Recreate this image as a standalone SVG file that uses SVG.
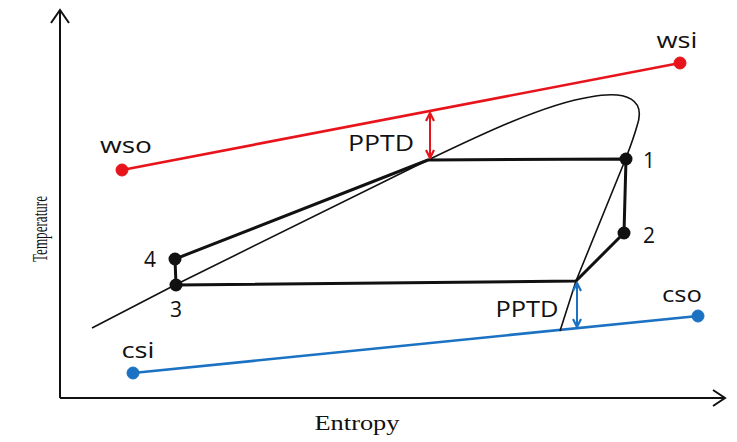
<svg xmlns="http://www.w3.org/2000/svg" width="737" height="442" viewBox="0 0 737 442">
<style>
.lbl{font-family:"Open Sans","Liberation Sans",sans-serif;font-size:21px;fill:#111}
.ax{font-family:"Liberation Serif",serif;fill:#111}
.thin{fill:none;stroke:#111;stroke-width:1.6}
.thick{fill:none;stroke:#111;stroke-width:3;stroke-linejoin:round}
.red{stroke:#e8141c;fill:#e8141c}
.blue{stroke:#1b72c2;fill:#1b72c2}
</style>
<defs>
<marker id="ar" viewBox="0 0 10 10" refX="9" refY="5" markerWidth="10" markerHeight="10" markerUnits="userSpaceOnUse" orient="auto-start-reverse">
<path d="M1,1 L9,5 L1,9" fill="none" stroke="#e8141c" stroke-width="2.2"/>
</marker>
<marker id="ab" viewBox="0 0 10 10" refX="9" refY="5" markerWidth="10" markerHeight="10" markerUnits="userSpaceOnUse" orient="auto-start-reverse">
<path d="M1,1 L9,5 L1,9" fill="none" stroke="#1b72c2" stroke-width="2.2"/>
</marker>
</defs>
<rect width="737" height="442" fill="#fff"/>
<g id="axes">
<path d="M60,398 V11 M51,23 L60,10 L69,23" fill="none" stroke="#111" stroke-width="2"/>
<path d="M60,398 H724 M713,390 L725,398 L713,406" fill="none" stroke="#111" stroke-width="2"/>
<text class="ax" font-size="20" x="357" y="430" text-anchor="middle" textLength="85" lengthAdjust="spacingAndGlyphs">Entropy</text>
<text class="ax" font-size="20" transform="translate(47,229) rotate(-90)" text-anchor="middle" textLength="66" lengthAdjust="spacingAndGlyphs">Temperature</text>
</g>
<g id="connectors">
<line x1="122" y1="170" x2="680" y2="63" class="red" stroke-width="2.6"/>
<line x1="133" y1="373" x2="698" y2="316" class="blue" stroke-width="2.6"/>
<path id="dome" class="thin" d="M92,328 L175,285 L428,160 C480,135 545,104 590,97 C628,90 646,100 637,126 C633,140 629,150 626,158 L576,281 L560,331"/>
<path id="cycle" class="thick" d="M175,259 L428,160 L626,159 L624,233 L576,281 L176,285 Z"/>
<line x1="430" y1="113" x2="430" y2="158" stroke="#e8141c" stroke-width="2" marker-start="url(#ar)" marker-end="url(#ar)"/>
<line x1="577" y1="283" x2="577" y2="327" stroke="#1b72c2" stroke-width="2" marker-start="url(#ab)" marker-end="url(#ab)"/>
</g>
<g id="wso"><circle cx="122" cy="170" r="6" class="red"/><text class="lbl" x="126" y="153" text-anchor="middle" textLength="52" lengthAdjust="spacingAndGlyphs">wso</text></g>
<g id="wsi"><circle cx="680" cy="63" r="6" class="red"/><text class="lbl" x="677" y="48" text-anchor="middle" textLength="41" lengthAdjust="spacingAndGlyphs">wsi</text></g>
<g id="csi"><circle cx="133" cy="373" r="6" class="blue"/><text class="lbl" x="138" y="358" text-anchor="middle" textLength="33" lengthAdjust="spacingAndGlyphs">csi</text></g>
<g id="cso"><circle cx="698" cy="316" r="6" class="blue"/><text class="lbl" x="682" y="302" text-anchor="middle" textLength="40" lengthAdjust="spacingAndGlyphs">cso</text></g>
<g id="p1"><circle cx="626" cy="159" r="6.5" fill="#111"/><text class="lbl" x="649" y="168" text-anchor="middle">1</text></g>
<g id="p2"><circle cx="624" cy="233" r="6.5" fill="#111"/><text class="lbl" x="649" y="243" text-anchor="middle">2</text></g>
<g id="p3"><circle cx="176" cy="285" r="6.5" fill="#111"/><text class="lbl" x="176" y="317" text-anchor="middle">3</text></g>
<g id="p4"><circle cx="175" cy="259" r="6.5" fill="#111"/><text class="lbl" x="150" y="267" text-anchor="middle">4</text></g>
<g id="pptd-w"><text class="lbl" font-size="23" x="381" y="151" text-anchor="middle" textLength="66" lengthAdjust="spacingAndGlyphs">PPTD</text></g>
<g id="pptd-c"><text class="lbl" font-size="23" x="527" y="317" text-anchor="middle" textLength="63" lengthAdjust="spacingAndGlyphs">PPTD</text></g>
</svg>
